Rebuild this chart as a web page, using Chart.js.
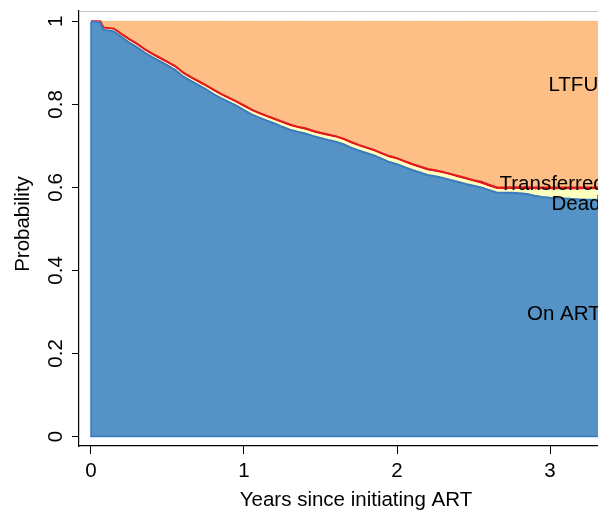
<!DOCTYPE html>
<html>
<head>
<meta charset="utf-8">
<script src="https://cdn.jsdelivr.net/npm/chart.js@4.4.1/dist/chart.umd.min.js"></script>
<style>
    html, body { margin: 0; padding: 0; background: #fff; }
    #wrap { width: 598px; height: 510px; }
</style>
</head>
<body>
<div id="wrap"><canvas id="stateChart" width="598" height="510"></canvas></div>
<script>
// Years since initiating ART
const times = [0, 0.06, 0.08, 0.15, 0.20, 0.25, 0.30, 0.35, 0.40, 0.45, 0.50, 0.55, 0.60, 0.65, 0.70, 0.75,
    0.80, 0.85, 0.90, 0.95, 1.00, 1.05, 1.10, 1.15, 1.20, 1.25, 1.30, 1.35, 1.40, 1.45, 1.50, 1.55,
    1.60, 1.65, 1.70, 1.75, 1.80, 1.85, 1.90, 1.95, 2.00, 2.05, 2.10, 2.15, 2.20, 2.25, 2.30, 2.35,
    2.40, 2.45, 2.50, 2.55, 2.60, 2.65, 2.70, 2.75, 2.80, 2.85, 2.90, 2.95, 3.00, 3.05, 3.10, 3.15,
    3.20, 3.25, 3.30, 3.35];

// State probabilities (stacked)
const onArt = [1.000, 0.997, 0.980, 0.976, 0.962, 0.949, 0.938, 0.925, 0.914, 0.904, 0.894, 0.883, 0.868, 0.857, 0.847, 0.837,
    0.825, 0.815, 0.806, 0.797, 0.786, 0.776, 0.768, 0.761, 0.754, 0.746, 0.739, 0.734, 0.730, 0.724, 0.719, 0.714,
    0.710, 0.704, 0.696, 0.689, 0.683, 0.677, 0.669, 0.661, 0.656, 0.649, 0.642, 0.636, 0.630, 0.627, 0.623, 0.618,
    0.613, 0.608, 0.604, 0.600, 0.594, 0.588, 0.587, 0.587, 0.586, 0.584, 0.580, 0.577, 0.575, 0.574, 0.573, 0.572,
    0.571, 0.570, 0.570, 0.569];
const dead = [0.000, 0.002, 0.003, 0.004, 0.004, 0.005, 0.005, 0.005, 0.005, 0.005, 0.005, 0.006, 0.006, 0.006, 0.006, 0.006,
    0.007, 0.007, 0.007, 0.007, 0.008, 0.008, 0.008, 0.008, 0.008, 0.009, 0.009, 0.009, 0.009, 0.009, 0.009, 0.010,
    0.010, 0.010, 0.010, 0.010, 0.010, 0.010, 0.010, 0.011, 0.011, 0.011, 0.011, 0.011, 0.011, 0.011, 0.011, 0.011,
    0.011, 0.011, 0.010, 0.009, 0.008, 0.008, 0.008, 0.009, 0.010, 0.012, 0.015, 0.018, 0.020, 0.021, 0.022, 0.023,
    0.024, 0.025, 0.025, 0.026];
const transferred = [0.000, 0.001, 0.002, 0.002, 0.003, 0.003, 0.003, 0.003, 0.003, 0.003, 0.003, 0.003, 0.003, 0.003, 0.003, 0.003,
    0.003, 0.003, 0.003, 0.003, 0.003, 0.003, 0.003, 0.003, 0.003, 0.003, 0.003, 0.003, 0.003, 0.003, 0.003, 0.003,
    0.003, 0.003, 0.003, 0.003, 0.003, 0.003, 0.003, 0.003, 0.003, 0.003, 0.003, 0.003, 0.003, 0.003, 0.003, 0.003,
    0.003, 0.003, 0.003, 0.004, 0.004, 0.004, 0.004, 0.004, 0.004, 0.004, 0.004, 0.004, 0.004, 0.004, 0.004, 0.004,
    0.004, 0.004, 0.004, 0.004];
const ltfu = [0.000, 0.000, 0.015, 0.018, 0.031, 0.043, 0.054, 0.067, 0.078, 0.088, 0.098, 0.108, 0.123, 0.134, 0.144, 0.154,
    0.165, 0.175, 0.184, 0.193, 0.203, 0.213, 0.221, 0.228, 0.235, 0.242, 0.249, 0.254, 0.258, 0.264, 0.269, 0.273,
    0.277, 0.283, 0.291, 0.298, 0.304, 0.310, 0.318, 0.325, 0.330, 0.337, 0.344, 0.350, 0.356, 0.359, 0.363, 0.368,
    0.373, 0.378, 0.383, 0.387, 0.394, 0.400, 0.401, 0.400, 0.400, 0.400, 0.401, 0.401, 0.401, 0.401, 0.401, 0.401,
    0.401, 0.401, 0.401, 0.401];

const xTicks = [0, 1, 2, 3];
const xTickLabels = ['0', '1', '2', '3'];
const yTicks = [0, 0.2, 0.4, 0.6, 0.8, 1];
const yTickLabels = ['0', '0.2', '0.4', '0.6', '0.8', '1'];

// State names written inside the plot, anchored in data units (left edge, baseline)
const stateNames = ['LTFU', 'Transferred', 'Dead', 'On ART'];
const nameX = [2.99, 2.67, 3.01, 2.85];
const nameY = [0.833, 0.594, 0.546, 0.281];

const FONT = '"Liberation Sans", Arial, Helvetica, sans-serif';
const FONT_SIZE = 20.5;

const toPoints = vals => vals.map((v, i) => ({ x: times[i], y: v }));

const decorations = {
    id: 'decorations',
    afterDatasetsDraw(chart) {
        const { ctx, chartArea, scales: { x, y } } = chart;
        ctx.save();

        // outline the left and bottom edges of the On ART area
        ctx.strokeStyle = '#3a7bbd';
        ctx.lineWidth = 1.5;
        ctx.beginPath();
        ctx.moveTo(x.getPixelForValue(times[0]), y.getPixelForValue(onArt[0]));
        ctx.lineTo(x.getPixelForValue(times[0]), y.getPixelForValue(0));
        ctx.lineTo(x.getPixelForValue(times[times.length - 1]), y.getPixelForValue(0));
        ctx.stroke();

        // state names
        ctx.fillStyle = '#000';
        ctx.font = `${FONT_SIZE}px ${FONT}`;
        ctx.textAlign = 'left';
        ctx.textBaseline = 'alphabetic';
        stateNames.forEach((name, i) => {
            ctx.fillText(name, x.getPixelForValue(nameX[i]), y.getPixelForValue(nameY[i]));
        });

        // faint line along the top of the plot region
        ctx.strokeStyle = '#c4c4c4';
        ctx.lineWidth = 1;
        ctx.beginPath();
        ctx.moveTo(chartArea.left, chartArea.top + 0.5);
        ctx.lineTo(chartArea.right, chartArea.top + 0.5);
        ctx.stroke();
        ctx.restore();
    },
    afterDraw(chart) {
        const { ctx, scales: { y } } = chart;
        ctx.save();
        ctx.fillStyle = '#000';
        ctx.font = `${FONT_SIZE}px ${FONT}`;
        ctx.textAlign = 'center';
        ctx.textBaseline = 'middle';

        // rotated y tick labels
        yTicks.forEach((v, i) => {
            ctx.save();
            ctx.translate(56, y.getPixelForValue(v));
            ctx.rotate(-Math.PI / 2);
            ctx.fillText(yTickLabels[i], 0, 0);
            ctx.restore();
        });

        // y axis title
        ctx.save();
        ctx.translate(23, 224);
        ctx.rotate(-Math.PI / 2);
        ctx.fillText('Probability', 0, 0);
        ctx.restore();

        // x axis title
        ctx.fillText('Years since initiating ART', 356, 500);
        ctx.restore();
    }
};

const ctx = document.getElementById('stateChart').getContext('2d');

new Chart(ctx, {
    type: 'line',
    data: {
        datasets: [
            {
                label: 'On ART',
                data: toPoints(onArt),
                backgroundColor: '#5593c6',
                borderColor: '#3a7bbd',
                borderWidth: 2,
                fill: 'origin'
            },
            {
                label: 'Dead',
                data: toPoints(dead),
                backgroundColor: '#ffffbf',
                borderColor: '#ffffbf',
                borderWidth: 0,
                fill: '-1'
            },
            {
                label: 'Transferred',
                data: toPoints(transferred),
                backgroundColor: '#e31a1c',
                borderColor: '#e31a1c',
                borderWidth: 2.4,
                fill: '-1'
            },
            {
                label: 'LTFU',
                data: toPoints(ltfu),
                backgroundColor: '#fdbf86',
                borderColor: '#f8b57a',
                borderWidth: 1,
                fill: '-1'
            }
        ]
    },
    options: {
        responsive: false,
        animation: false,
        devicePixelRatio: 1,
        layout: { padding: { top: 11, right: 0, left: 0, bottom: 0 } },
        elements: {
            point: { radius: 0, hoverRadius: 0 },
            line: { tension: 0 }
        },
        plugins: {
            legend: { display: false },
            tooltip: { enabled: false }
        },
        scales: {
            x: {
                type: 'linear',
                min: -0.0784,
                max: 3.3137,
                afterBuildTicks: axis => { axis.ticks = xTicks.map(v => ({ value: v })); },
                afterFit: axis => { axis.height = 64; },
                ticks: {
                    color: '#000',
                    padding: 5,
                    maxRotation: 0,
                    font: { family: FONT, size: FONT_SIZE },
                    callback: (value) => xTickLabels[xTicks.indexOf(value)]
                },
                grid: {
                    drawOnChartArea: false,
                    drawTicks: true,
                    tickLength: 8,
                    color: '#000'
                },
                border: { display: true, color: '#000', width: 1.2 }
            },
            y: {
                type: 'linear',
                stacked: true,
                min: -0.023,
                max: 1.025,
                afterBuildTicks: axis => { axis.ticks = yTicks.map(v => ({ value: v })); },
                afterFit: axis => { axis.width = 79; },
                ticks: { display: false },
                grid: {
                    drawOnChartArea: false,
                    drawTicks: true,
                    tickLength: 7,
                    color: '#000'
                },
                border: { display: true, color: '#000', width: 1.2 }
            }
        }
    },
    plugins: [decorations]
});
</script>
</body>
</html>
